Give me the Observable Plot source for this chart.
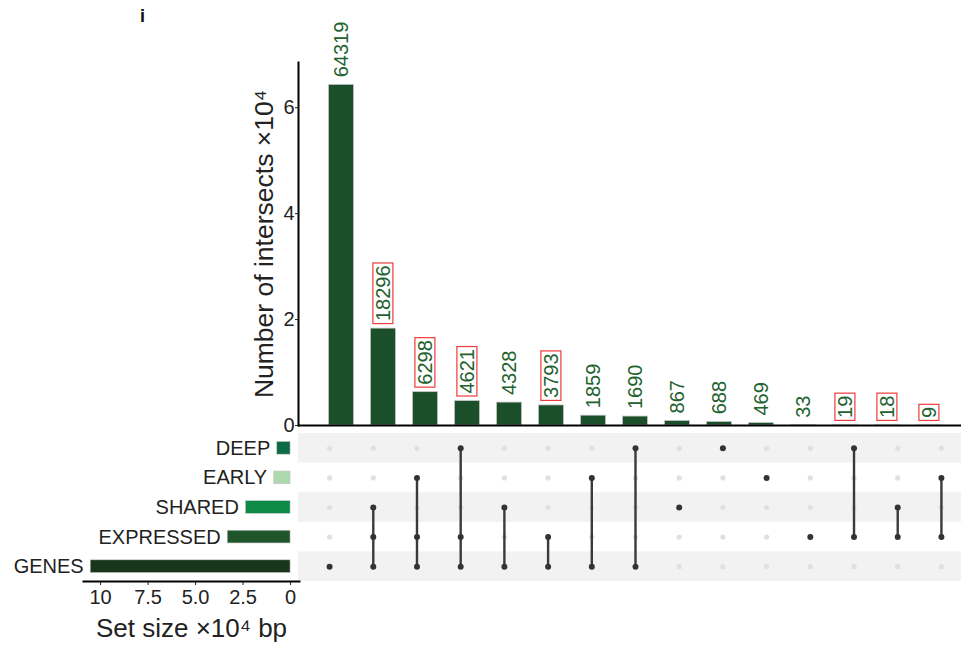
<!DOCTYPE html>
<html><head><meta charset="utf-8">
<script src="https://cdn.jsdelivr.net/npm/d3@7"></script>
<script src="https://cdn.jsdelivr.net/npm/@observablehq/plot@0.6"></script>
<style>
html,body{margin:0;padding:0;background:#fff;}
#wrap{position:relative;width:961px;height:651px;overflow:hidden;font-family:"Liberation Sans",Arial,sans-serif;}
#wrap svg{position:absolute;left:0;top:0;}
#panel{position:absolute;left:140px;top:7px;font:bold 18px "Liberation Sans",Arial,sans-serif;line-height:18px;color:#111;}
</style></head><body>
<div id="wrap"><div id="panel">i</div></div>
<script>
// ---- data ----
const setNames = ["DEEP", "EARLY", "SHARED", "EXPRESSED", "GENES"];
const setSizes = [7018, 8635, 23509, 33087, 105204];
const setColors = ["#0a6b46", "#acd8ac", "#0c8a46", "#1f552b", "#17361c"];
const intersectSizes = [64319, 18296, 6298, 4621, 4328, 3793, 1859, 1690, 867, 688, 469, 33, 19, 18, 9];
const intersectMembers = [
  ["GENES"],
  ["SHARED", "EXPRESSED", "GENES"],
  ["EARLY", "EXPRESSED", "GENES"],
  ["DEEP", "EXPRESSED", "GENES"],
  ["SHARED", "GENES"],
  ["EXPRESSED", "GENES"],
  ["EARLY", "GENES"],
  ["DEEP", "GENES"],
  ["SHARED"],
  ["DEEP"],
  ["EARLY"],
  ["EXPRESSED"],
  ["DEEP", "EXPRESSED"],
  ["SHARED", "EXPRESSED"],
  ["EARLY", "EXPRESSED"]
];
const highlighted = [false, true, true, true, false, true, false, false, false, false, false, false, true, true, true];
const yTicks = [0, 20000, 40000, 60000];
const yTickLabels = ["0", "2", "4", "6"];
const setTicks = [0, 2.5, 5, 7.5, 10];
const setTickLabels = ["0", "2.5", "5.0", "7.5", "10"];
const yTitle = "Number of intersects ×10⁴";
const setTitle = "Set size ×10⁴ bp";

// ---- layout ----
const W = 961, H = 651;
const font = `"Liberation Sans", Arial, sans-serif`;
const baseStyle = {background: "transparent", fontFamily: font, overflow: "visible"};
const cols = intersectSizes.map((_, i) => i);
const xBand = {domain: cols, range: [311.6, 958.4], padding: 0.4, round: false, axis: null};
const inter = intersectSizes.map((v, i) => ({col: i, size: v, boxed: highlighted[i]}));
const wrap = document.getElementById("wrap");

// ---- intersection bars ----
const labelOpts = {x: "col", y: "size", text: d => String(d.size), rotate: -90, textAnchor: "start",
  dy: -7.5, fontSize: 20, fill: "#22622e"};
const plotA = Plot.plot({
  width: W, height: H, marginLeft: 298, marginRight: 0, marginTop: 62, marginBottom: 226,
  style: baseStyle,
  x: xBand,
  y: {domain: [0, 68540], axis: null},
  marks: [
    Plot.barY(inter, {x: "col", y: "size", fill: "#1b4f29", stroke: "#c8c8c8", strokeWidth: 0.8}),
    Plot.ruleY([0], {stroke: "#000", strokeWidth: 2}),
    Plot.frame({anchor: "left", stroke: "#000", strokeWidth: 2}),
    Plot.axisY({ticks: yTicks, tickFormat: d => yTickLabels[yTicks.indexOf(d)], tickSize: 3, tickPadding: 1,
      fontSize: 20, color: "#222", label: null}),
    Plot.text([yTitle], {frameAnchor: "left", textAnchor: "middle", rotate: -90, dx: -34, fontSize: 26.5, fill: "#222"}),
    Plot.text(inter.filter(d => !d.boxed), labelOpts),
    Plot.text(inter.filter(d => d.boxed), labelOpts)
  ]
});
wrap.appendChild(plotA);

// red boxes around highlighted labels (last text mark)
const textGroups = plotA.querySelectorAll('g[aria-label="text"]');
const boxedGroup = textGroups[textGroups.length - 1];
d3.select(boxedGroup).selectAll("text").each(function () {
  const b = this.getBBox();
  const cy = b.y + b.height / 2;
  const r = document.createElementNS("http://www.w3.org/2000/svg", "rect");
  r.setAttribute("x", b.x - 2.5);
  r.setAttribute("y", cy - 10);
  r.setAttribute("width", b.width + 5);
  r.setAttribute("height", 20);
  r.setAttribute("fill", "none");
  r.setAttribute("stroke", "#ee3b3b");
  r.setAttribute("stroke-width", 1.2);
  const t = this.getAttribute("transform");
  if (t) r.setAttribute("transform", t);
  this.parentNode.insertBefore(r, this);
});

// ---- matrix ----
const cells = [];
for (const i of cols) for (const s of setNames) cells.push({col: i, set: s, on: intersectMembers[i].includes(s)});
const links = cols.filter(i => intersectMembers[i].length > 1).map(i => {
  const idx = intersectMembers[i].map(s => setNames.indexOf(s));
  return {col: i, from: setNames[d3.min(idx)], to: setNames[d3.max(idx)]};
});
const plotB = Plot.plot({
  width: W, height: H, marginLeft: 298, marginRight: 0, marginTop: 433, marginBottom: 70,
  style: baseStyle,
  x: xBand,
  y: {domain: setNames, padding: 0, round: false, axis: null},
  marks: [
    Plot.cell(setNames.filter((_, i) => i % 2 === 0), {y: d => d, fill: "#f2f2f2"}),
    Plot.dot(cells.filter(d => !d.on), {x: "col", y: "set", r: 2.6, fill: "#e0e0e0"}),
    Plot.link(links, {x1: "col", x2: "col", y1: "from", y2: "to", stroke: "#3a3a3a", strokeWidth: 2.4}),
    Plot.dot(cells.filter(d => d.on), {x: "col", y: "set", r: 3, fill: "#333"})
  ]
});
wrap.appendChild(plotB);

// ---- set sizes ----
const setData = setNames.map((s, i) => ({set: s, size: setSizes[i]}));
const plotC = Plot.plot({
  width: W, height: H, marginLeft: 83, marginRight: 662, marginTop: 433, marginBottom: 70,
  style: baseStyle,
  x: {domain: [-0.47, 10.9], reverse: true, axis: null},
  y: {domain: setNames, paddingInner: 0.57, paddingOuter: 0.285, round: false, axis: null},
  color: {domain: setNames, range: setColors},
  marks: [
    Plot.barX(setData, {x: d => d.size / 1e4, y: "set", fill: "set", stroke: "#c8c8c8", strokeWidth: 0.6}),
    Plot.text(setData, {x: d => d.size / 1e4, y: "set", text: "set", textAnchor: "end", dx: -7, fontSize: 20, fill: "#222"}),
    Plot.axisX({ticks: setTicks, tickFormat: d => setTickLabels[setTicks.indexOf(d)], tickSize: 4, tickPadding: 4,
      fontSize: 20, color: "#222", label: null}),
    Plot.frame({anchor: "bottom", stroke: "#000", strokeWidth: 2}),
    Plot.text([setTitle], {frameAnchor: "bottom", dy: 55, fontSize: 26, fill: "#222"})
  ]
});
wrap.appendChild(plotC);
</script>
</body></html>
